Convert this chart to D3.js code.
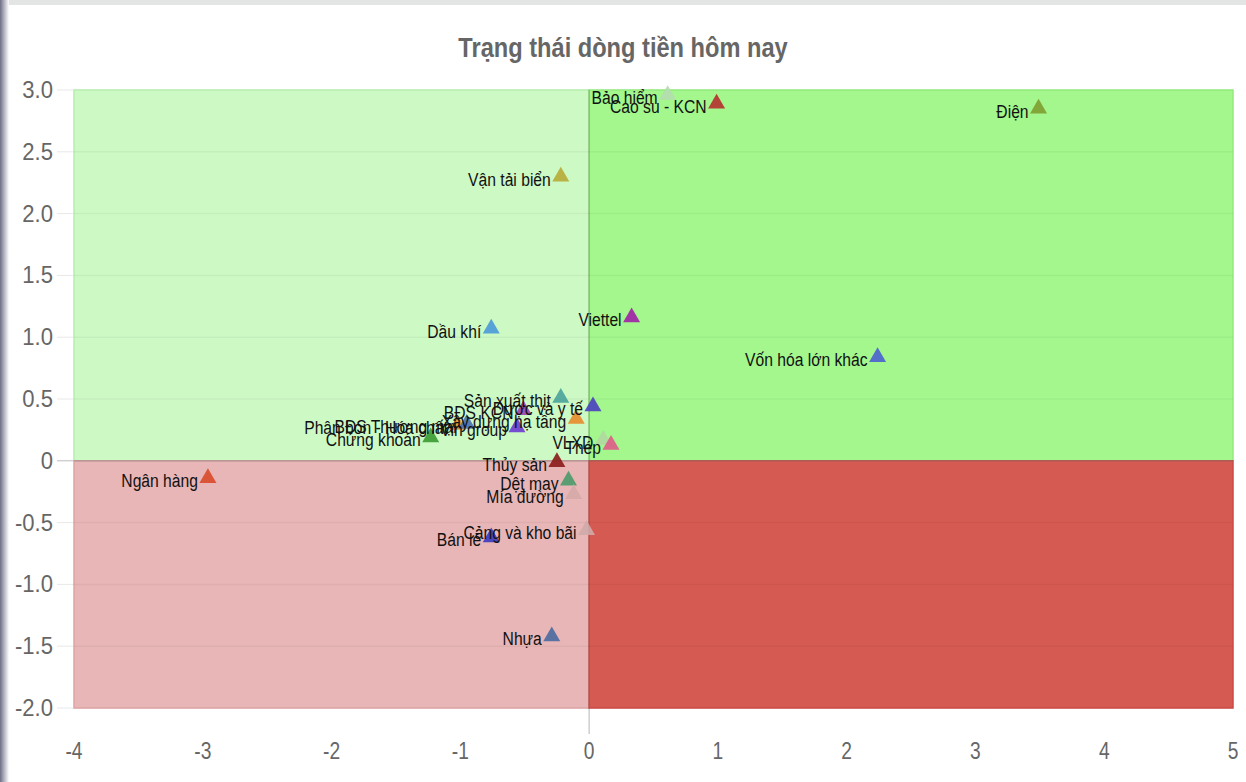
<!DOCTYPE html>
<html><head><meta charset="utf-8">
<script src="https://cdn.jsdelivr.net/npm/d3@7"></script>
<style>body{margin:0;background:#fff;}svg{display:block;font-family:"Liberation Sans",Arial,sans-serif;}</style>
</head><body>
<svg id="c" width="1246" height="782"></svg>
<script>
const names = ["Bảo hiểm","Cao su - KCN","Điện","Vận tải biển","Viettel","Vốn hóa lớn khác","Dầu khí","Sản xuất thịt","Dược và y tế","BĐS KCN","Xây dựng hạ tầng","Vin group","Phân bón - Hóa chất","BĐS Thương mại","Chứng khoán","VLXD","Thép","Thủy sản","Dệt may","Mía đường","Cảng và kho bãi","Bán lẻ","Nhựa","Ngân hàng"];
const xValues = [0.61,0.99,3.49,-0.22,0.33,2.24,-0.76,-0.22,0.03,-0.51,-0.10,-0.56,-1.02,-0.95,-1.23,0.11,0.17,-0.25,-0.16,-0.12,-0.02,-0.76,-0.29,-2.96];
const yValues = [2.96,2.89,2.85,2.30,1.16,0.84,1.07,0.51,0.44,0.41,0.34,0.27,0.29,0.30,0.19,0.17,0.13,-0.01,-0.16,-0.27,-0.56,-0.62,-1.42,-0.14];
const pointColors = ["#b4dcae","#b52e2e","#7f9c2f","#b7aa36","#a21fa9","#4a5fd0","#4a98d8","#4aa39a","#4a3fc0","#9b3fb0","#e88a2a","#6a3ad0","#e8952e","#4a70b0","#3a9a30","#b0d8a0","#e05a8a","#8a1a1a","#4a9a6a","#d6aaaa","#cfaaaa","#3a3ac0","#4a6aa0","#d84a2a"];
const xTicks = [-4,-3,-2,-1,0,1,2,3,4,5];
const yTicks = [3,2.5,2,1.5,1,0.5,0,-0.5,-1,-1.5,-2];
const yTickLabels = ["3.0","2.5","2.0","1.5","1.0","0.5","0","-0.5","-1.0","-1.5","-2.0"];
const title = "Trạng thái dòng tiền hôm nay";

const svg = d3.select("#c");
const x = d3.scaleLinear().domain([-4,5]).range([74,1233]);
const y = d3.scaleLinear().domain([-2,3]).range([708,90]);

function condense(sel, k){
  sel.each(function(){
    const t=d3.select(this);
    const tx=+t.attr("x"), ty=+t.attr("y");
    t.attr("x",0).attr("y",0).attr("transform",`translate(${tx},${ty}) scale(${k},1)`);
  });
}

// page decorations
const defs = svg.append("defs");
const lg = defs.append("linearGradient").attr("id","lg").attr("x1","0").attr("x2","1");
lg.append("stop").attr("offset","0").attr("stop-color","#6e6e86");
lg.append("stop").attr("offset","0.5").attr("stop-color","#b8b8c6");
lg.append("stop").attr("offset","1").attr("stop-color","#ffffff");
svg.append("rect").attr("x",0).attr("y",0).attr("width",1246).attr("height",5).attr("fill","#e3e5e5");
svg.append("rect").attr("x",0).attr("y",0).attr("width",9).attr("height",782).attr("fill","url(#lg)");

// title
svg.append("text").attr("x",623).attr("y",57).attr("text-anchor","middle")
  .attr("font-size",27).attr("font-weight","bold").attr("fill","#666").text(title)
  .call(condense,0.875);

// gridlines
svg.append("g").selectAll("line").data(yTicks).join("line")
  .attr("x1",57).attr("x2",x(5)).attr("y1",d=>y(d)).attr("y2",d=>y(d))
  .attr("stroke",d=>d===0?"#bdbdbd":"#e8e8e8").attr("stroke-width",1);

// quadrants
const quads = [
  {x0:-4,x1:0,y0:0,y1:3,fill:"#cdf9c5",stroke:"#b7eeae"},
  {x0:0,x1:5,y0:0,y1:3,fill:"#a3f78c",stroke:"#93ea7c"},
  {x0:-4,x1:0,y0:-2,y1:0,fill:"#e8b6b6",stroke:"#dea4a4"},
  {x0:0,x1:5,y0:-2,y1:0,fill:"#d55a52",stroke:"#cc4a44"}
];
svg.append("g").selectAll("rect").data(quads).join("rect")
  .attr("x",d=>x(d.x0)).attr("y",d=>y(d.y1))
  .attr("width",d=>x(d.x1)-x(d.x0)).attr("height",d=>y(d.y0)-y(d.y1))
  .attr("fill",d=>d.fill).attr("stroke",d=>d.stroke).attr("stroke-width",1.5);

// faint gridlines over quadrants
svg.append("g").selectAll("line").data(yTicks.filter(d=>d!==3&&d!==-2)).join("line")
  .attr("x1",x(-4)).attr("x2",x(5)).attr("y1",d=>y(d)).attr("y2",d=>y(d))
  .attr("stroke",d=>d===0?"rgba(120,120,120,0.45)":"rgba(0,0,0,0.04)").attr("stroke-width",d=>d===0?1.2:1.5);

// zero vertical line
svg.append("line").attr("x1",x(0)).attr("x2",x(0)).attr("y1",y(3)).attr("y2",734)
  .attr("stroke","rgba(110,110,110,0.5)").attr("stroke-width",1);

// y tick labels
svg.append("g").selectAll("text").data(yTicks).join("text")
  .attr("x",53).attr("y",(d)=>y(d)+8).attr("text-anchor","end")
  .attr("font-size",24).attr("fill","#666").text((d,i)=>yTickLabels[i])
  .call(condense,0.92);

// x tick labels
svg.append("g").selectAll("text").data(xTicks).join("text")
  .attr("x",d=>x(d)).attr("y",759).attr("text-anchor","middle")
  .attr("font-size",24).attr("fill","#666").text(d=>d)
  .call(condense,0.8);

// points
const sym = d3.symbol().type(d3.symbolTriangle).size(125);
const idx = d3.range(names.length);
svg.append("g").selectAll("path").data(idx).join("path")
  .attr("d",sym)
  .attr("transform",i=>`translate(${x(xValues[i])},${y(yValues[i])})`)
  .attr("fill",i=>pointColors[i]).attr("fill-opacity",0.9);

// labels
svg.append("g").selectAll("text").data(idx).join("text")
  .attr("x",i=>x(xValues[i])-10).attr("y",i=>y(yValues[i])+9)
  .attr("text-anchor","end").attr("font-size",18).attr("fill","#111")
  .text(i=>names[i])
  .call(condense,0.87);
</script>
</body></html>
